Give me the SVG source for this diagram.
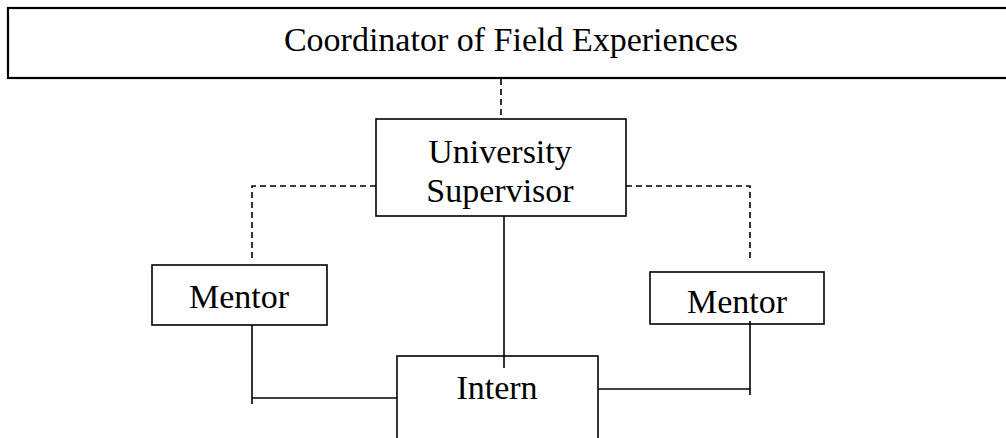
<svg xmlns="http://www.w3.org/2000/svg" width="1006" height="438" viewBox="0 0 1006 438">
<style>
.box{fill:#fff;stroke:#000;stroke-width:1.6}
.t{font-family:"Liberation Serif","Times New Roman",serif;font-size:34px;fill:#000;text-anchor:middle}
.ln{fill:none;stroke:#000;stroke-width:1.6}
.dash{fill:none;stroke:#000;stroke-width:1.6;stroke-dasharray:6,4}
</style>
<g id="coordinator">
<rect class="box" x="8" y="8" width="1010" height="70" style="stroke-width:2.2"/>
<text class="t" x="511" y="51">Coordinator of Field Experiences</text>
</g>
<g id="supervisor">
<rect class="box" x="376" y="119" width="250" height="97"/>
<text class="t" x="500" y="163">University</text>
<text class="t" x="500" y="202">Supervisor</text>
</g>
<g id="mentor-left">
<rect class="box" x="152" y="265" width="175" height="60"/>
<text class="t" x="239" y="308">Mentor</text>
</g>
<g id="mentor-right">
<rect class="box" x="650" y="272" width="174" height="52"/>
<text class="t" x="737" y="313">Mentor</text>
</g>
<g id="intern">
<rect class="box" x="397" y="356" width="201" height="100"/>
<text class="t" x="497" y="399">Intern</text>
</g>
<g id="connectors">
<path class="dash" d="M501,79 V119"/>
<path class="dash" d="M376,186 H252 V258"/>
<path class="dash" d="M626,186 H750 V258"/>
<path class="ln" d="M504,216 V368"/>
<path class="ln" d="M252,325 V404 M252,398 H397"/>
<path class="ln" d="M750,321 V395 M598,389 H750"/>
</g>
</svg>
